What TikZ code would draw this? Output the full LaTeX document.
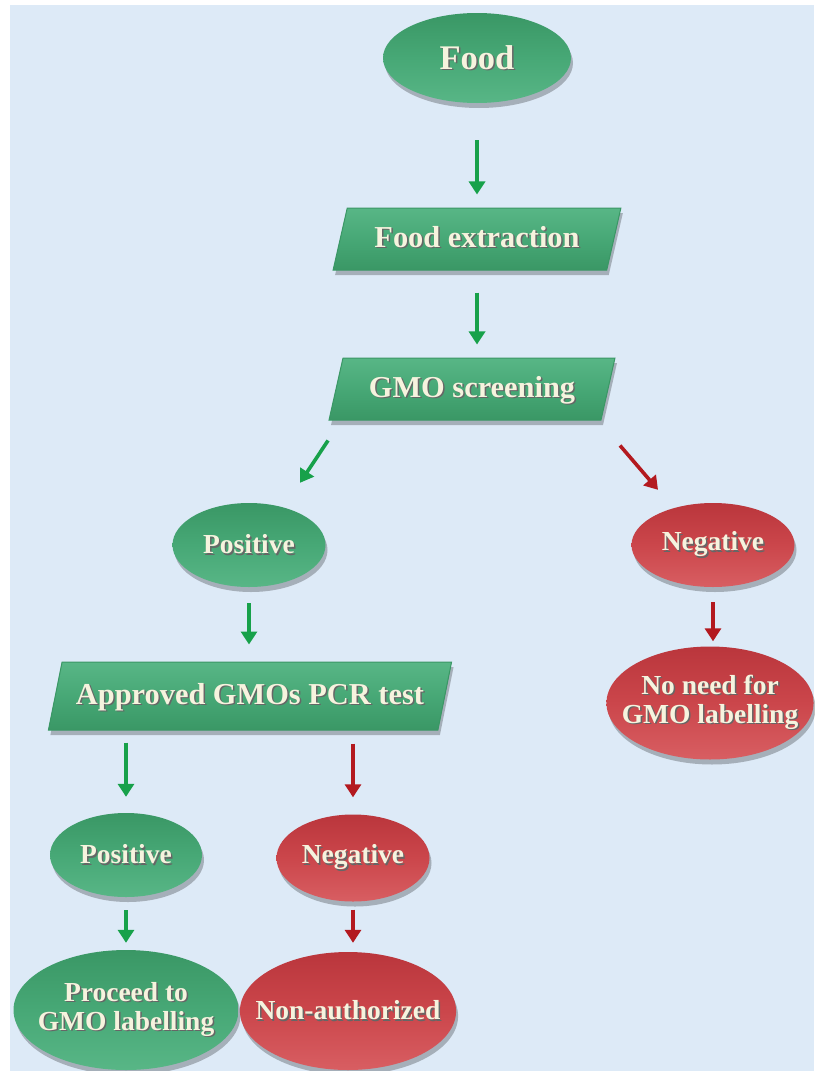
\documentclass[tikz,border=0pt]{standalone}
\usepackage{fontspec}
\setmainfont{Liberation Serif}
\definecolor{BGblue}{HTML}{DDEAF7}
\definecolor{GMOgreen}{HTML}{47A876}
\definecolor{GMOgreenD}{HTML}{3A9765}
\definecolor{GMOgreenL}{HTML}{58B686}
\definecolor{GMOred}{HTML}{CB464B}
\definecolor{GMOredD}{HTML}{BA363C}
\definecolor{GMOredL}{HTML}{D85E62}
\definecolor{ARRgreen}{HTML}{17A14A}
\definecolor{ARRred}{HTML}{B3191F}
\definecolor{TXTcream}{HTML}{F6F3DE}
\usetikzlibrary{arrows.meta,calc,shapes.geometric,shadows}
\newcommand{\emb}[1]{\makebox[0pt][l]{\hspace{1.5pt}\raisebox{-1.5pt}{\color{black!60}#1}}#1}

\begin{document}
\begin{tikzpicture}[x=1pt,y=-1pt,
  lbl/.style={text=TXTcream,font=\bfseries\fontsize{27.5}{29}\selectfont,align=center,inner sep=0pt},
  soft/.style={drop shadow={shadow xshift=2pt,shadow yshift=-5pt,opacity=.25,fill=black}},
  gell/.style={ellipse,lbl,soft,shade,top color=GMOgreenD,bottom color=GMOgreenL,middle color=GMOgreen},
  rell/.style={ellipse,lbl,soft,shade,top color=GMOredD,bottom color=GMOredL,middle color=GMOred},
  gbox/.style={trapezium,trapezium left angle=79,trapezium right angle=101,trapezium stretches=true,
    lbl,soft,shade,top color=GMOgreenL,bottom color=GMOgreenD,middle color=GMOgreen,draw=GMOgreenD,line width=1pt,
    font=\bfseries\fontsize{30.4}{32}\selectfont,text height=22pt,text depth=6pt,inner xsep=8pt,inner ysep=17pt},
  garrow/.style={-{Triangle[width=16pt,length=13pt]},line width=3.6pt,ARRgreen},
  rarrow/.style={garrow,ARRred}]
  \useasboundingbox (0,0) rectangle (814,1071);
  \fill[BGblue] (10,5) rectangle (814,1071);

  \node[gell,minimum width=188pt,minimum height=90pt,font=\bfseries\fontsize{34.5}{36}\selectfont] (food) at (477,58) {\emb{Food}};
  \node[gbox,minimum width=288pt] (extr) at (477,239) {\emb{Food extraction}};
  \node[gbox,minimum width=287pt] (screen) at (472,389) {\emb{GMO screening}};
  \node[gell,minimum width=153pt,minimum height=84pt] (pos1) at (249,545) {\emb{Positive}};
  \node[rell,minimum width=163pt,minimum height=84pt] (neg1) at (713,545) {\emb{Negative}};
  \node[gbox,minimum width=405pt,inner ysep=20pt] (pcr) at (250,696) {\emb{Approved GMOs PCR test}};
  \node[rell,minimum width=206pt,minimum height=113pt,inner xsep=-15pt] (noneed) at (710,703) {\emb{No need for}\\\emb{GMO labelling}};
  \node[gell,minimum width=152pt,minimum height=84pt] (pos2) at (126,855) {\emb{Positive}};
  \node[rell,minimum width=153pt,minimum height=87pt] (neg2) at (353,858) {\emb{Negative}};
  \node[gell,minimum width=225pt,minimum height=120pt,inner xsep=-10pt] (label) at (126,1010) {\emb{Proceed to}\\\emb{GMO labelling}};
  \node[rell,minimum width=215pt,minimum height=118pt,inner xsep=-16pt] (nonauth) at (348,1011) {\emb{Non-authorized}};

  \draw[garrow,shorten <=37pt,shorten >=13pt] (food.south) -- (extr.north);
  \draw[garrow,shorten <=22pt,shorten >=13pt] (extr.south) -- (extr.south |- screen.north);
  \draw[garrow] ($(screen.south)+(-144,20)$) -- ($(pos1.north)+(51,-20)$);
  \draw[rarrow] ($(screen.south)+(148,25)$) -- ($(neg1.north)+(-55,-13)$);
  \draw[garrow,shorten <=16pt,shorten >=17pt] (pos1.south) -- (pos1.south |- pcr.north);
  \draw[rarrow,shorten <=15pt,shorten >=5pt] (neg1.south) -- (neg1.south |- noneed.north);
  \draw[garrow,shorten <=12pt,shorten >=16pt] (pcr.south -| pos2.north) -- (pos2.north);
  \draw[rarrow,shorten <=13pt,shorten >=17pt] (pcr.south -| neg2.north) -- (neg2.north);
  \draw[garrow,shorten <=13pt,shorten >=7pt] (pos2.south) -- (pos2.south |- label.north);
  \draw[rarrow,shorten <=8pt,shorten >=9pt] (neg2.south) -- (neg2.south |- nonauth.north);
\end{tikzpicture}
\end{document}
